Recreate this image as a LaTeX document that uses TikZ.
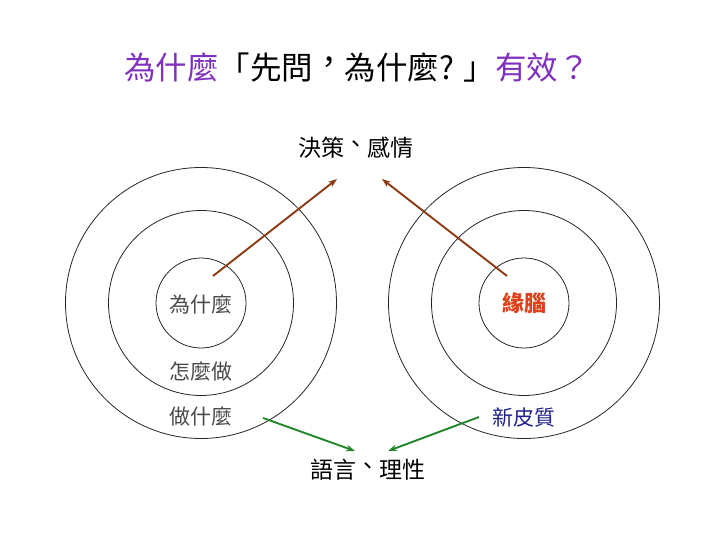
\documentclass[tikz,border=0pt]{standalone}
\usepackage{fontspec}
\usepackage{tikz}
\usetikzlibrary{arrows.meta,positioning}
\newfontfamily\tcfont{Noto Sans CJK TC}
\definecolor{ttlpurple}{HTML}{8030C0}
\definecolor{arbrown}{HTML}{8B3A12}
\definecolor{argreen}{HTML}{23862A}
\definecolor{lvgray}{HTML}{4A4A4A}
\definecolor{limbic}{HTML}{E0401A}
\definecolor{cortex}{HTML}{20208A}
\newcommand{\fsz}[1]{\fontsize{#1}{#1}\selectfont}
% centred full-width punctuation, as in Taiwanese typesetting
\newcommand{\cpt}[1]{\raisebox{0.2em}{#1}}

\begin{document}
\begin{tikzpicture}[x=1pt,y=-1pt,>={Stealth[length=9pt,width=6.5pt]},
  font=\tcfont,
  ring/.style={draw=black!85,circle,line width=0.8pt,inner sep=0pt},
  up/.style={->,arbrown,line width=1.9pt},
  dn/.style={->,argreen,line width=1.9pt},
  lv/.style={font=\tcfont\fsz{21},inner sep=0pt},
  tg/.style={font=\tcfont\fsz{23},inner sep=0pt}]
\useasboundingbox (0,0) rectangle (720,540);

\node[font=\tcfont\fsz{31.5}] (ttl) at (357,68)
  {{\color{ttlpurple}為什麼}「先問\cpt{，}為什麼? 」{\color{ttlpurple}有效？}};

% left: golden circle
\node[ring,minimum size=271pt] (wout) at (201,303) {};
\node[ring,minimum size=185pt] (wmid) at (201,303) {};
\node[ring,minimum size=90pt] (win) at (201,303) {};
\node[lv,lvgray] (why) at (201,305) {為什麼};
\node[lv,lvgray] (how) at (201,372) {怎麼做};
\node[lv,lvgray] (what) at (201,417) {做什麼};

% right: brain
\node[ring,minimum size=271pt] (bout) at (524,303) {};
\node[ring,minimum size=185pt] (bmid) at (524,303) {};
\node[ring,minimum size=90pt] (bin) at (524,303) {};
\node[lv,limbic,font=\tcfont\bfseries\fsz{22}] (lmb) at (524,303) {緣腦};
\node[lv,cortex] (ctx) at (524,418) {新皮質};

\node[tg] (emo) at (356,148) {決策\cpt{、}感情};
\node[tg] (rsn) at (368,470) {語言\cpt{、}理性};

\coordinate (wsrc) at (213,276);
\coordinate (lsrc) at (507,276);
\coordinate (emoL) at (337,179);
\coordinate (emoR) at (382,179);
\coordinate (wtsrc) at (263,418);
\coordinate (csrc) at (479,417);
\coordinate (rsnL) at (355,451);
\coordinate (rsnR) at (388,451);

\draw[up] (wsrc) -- (emoL);
\draw[up] (lsrc) -- (emoR);
\draw[dn] (wtsrc) -- (rsnL);
\draw[dn] (csrc) -- (rsnR);
\end{tikzpicture}
\end{document}
